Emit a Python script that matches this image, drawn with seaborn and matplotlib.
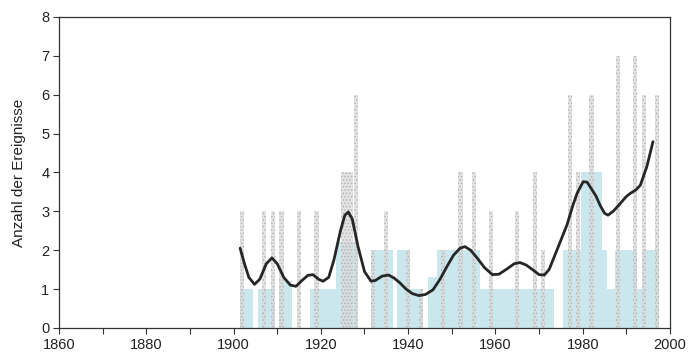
import numpy as np
import pandas as pd
import matplotlib
matplotlib.use("Agg")
import matplotlib.pyplot as plt
import seaborn as sns

# ---- data ----
gray_years = [1902, 1907, 1909, 1911, 1915, 1919, 1925, 1926, 1927, 1928, 1932, 1935,
              1940, 1943, 1948, 1952, 1955, 1959, 1965, 1969, 1971, 1977, 1979, 1982,
              1988, 1992, 1994, 1997]
gray_values = [3, 3, 3, 3, 3, 3, 4, 4, 4, 6, 2, 3,
               2, 1, 2, 4, 4, 3, 3, 4, 2, 6, 4, 6,
               7, 7, 6, 6]

blue_years = [1902, 1903, 1904,
              1906, 1907, 1908, 1909,
              1911, 1912, 1913,
              1918, 1919, 1920, 1921, 1922, 1923,
              1924, 1925, 1926, 1927, 1928,
              1932, 1933, 1934, 1935, 1936,
              1938, 1939, 1940,
              1941, 1942, 1943,
              1945, 1946, 1947, 1948, 1949,
              1950, 1951, 1952, 1953, 1954, 1955, 1956,
              1957, 1958, 1959, 1960, 1961, 1962, 1963, 1964, 1965, 1966, 1967, 1968, 1969,
              1970, 1971, 1972, 1973,
              1976, 1977, 1978, 1979,
              1980, 1981, 1982, 1983, 1984,
              1985, 1986, 1987,
              1988, 1989, 1990, 1991, 1992,
              1993, 1994, 1995, 1996, 1997]
blue_values = [1, 1, 1,
               1, 1, 1, 1,
               1.2, 1.2, 1.2,
               1, 1, 1, 1, 1, 1,
               2.2, 2.2, 2.2, 2.2, 2.2,
               2, 2, 2, 2, 2,
               2, 2, 2,
               1, 1, 1,
               1.3, 1.3, 2, 2, 2,
               2, 2, 2, 2, 2, 2, 2,
               1, 1, 1, 1, 1, 1, 1, 1, 1, 1, 1, 1, 1,
               1, 1, 1, 1,
               2, 2, 2, 2,
               4, 4, 4, 4, 4,
               2, 1, 1,
               2, 2, 2, 2, 2,
               1, 2, 2, 2, 2]

line_years = [1901.5, 1902.5, 1903.5, 1904.8, 1906, 1907.5, 1908.8, 1910, 1911.5, 1913,
              1914.3, 1915.5, 1917, 1918.2, 1919.5, 1920.5, 1921.8, 1923, 1924.5, 1925.5,
              1926.3, 1927.2, 1928.5, 1930, 1931.5, 1932.5, 1934, 1935.5, 1936.8, 1938.1,
              1939.5, 1941, 1942.5, 1944, 1945.7, 1947.3, 1948.9, 1950.4, 1951.9, 1953,
              1954.3, 1955.8, 1957.5, 1959.3, 1960.8, 1962.7, 1964.3, 1965.6, 1967, 1968.5,
              1970, 1971.2, 1972.3, 1973.2, 1974.8, 1976.4, 1977.6, 1978.7, 1980.1, 1981,
              1981.7, 1983, 1984, 1985, 1985.8, 1987, 1988.6, 1990, 1990.9, 1992.2,
              1993.2, 1994.7, 1996.1]
line_values = [2.05, 1.65, 1.3, 1.12, 1.25, 1.65, 1.8, 1.65, 1.3, 1.1,
               1.07, 1.2, 1.35, 1.37, 1.25, 1.2, 1.3, 1.75, 2.5, 2.9,
               2.98, 2.8, 2.1, 1.45, 1.2, 1.22, 1.33, 1.36, 1.28, 1.16,
               1.0, 0.88, 0.83, 0.86, 0.98, 1.25, 1.58, 1.87, 2.05, 2.09,
               2.0, 1.8, 1.55, 1.37, 1.38, 1.52, 1.65, 1.68, 1.62, 1.5,
               1.37, 1.36, 1.5, 1.75, 2.2, 2.65, 3.1, 3.46, 3.76, 3.75,
               3.63, 3.4, 3.15, 2.95, 2.9, 3.0, 3.2, 3.38, 3.46, 3.55,
               3.67, 4.15, 4.79]

y_ticks = [0, 1, 2, 3, 4, 5, 6, 7, 8]
x_major = [1860, 1880, 1900, 1920, 1940, 1960, 1980, 2000]
x_minor = [1870, 1890, 1910, 1930, 1950, 1970, 1990]
y_label = "Anzahl der Ereignisse"

# ---- plotting ----
sns.set_style("ticks")
plt.rcParams["font.family"] = ["Liberation Sans", "DejaVu Sans"]
plt.rcParams["hatch.linewidth"] = 0.8

fig = plt.figure(figsize=(6.9, 3.56), dpi=100)
ax = fig.add_axes([0.0855, 0.079, 0.8855, 0.8735])

blue_df = pd.DataFrame({"year": blue_years, "n": blue_values})
gray_df = pd.DataFrame({"year": gray_years, "n": gray_values})
line_df = pd.DataFrame({"year": line_years, "n": line_values})

sns.barplot(data=blue_df, x="year", y="n", native_scale=True, width=1.0,
            color="#c9e7ed", saturation=1, errorbar=None, linewidth=0,
            ax=ax, zorder=1)
sns.barplot(data=gray_df, x="year", y="n", native_scale=True, width=0.95,
            color="#dcdcdc", saturation=1, errorbar=None, linewidth=0,
            alpha=0.75, hatch=".....", edgecolor="#aaaaaa",
            ax=ax, zorder=2)
sns.lineplot(data=line_df, x="year", y="n", color="#262626", linewidth=2.0,
             ax=ax, zorder=3, sort=True)

ax.set_xlim(1860, 2000)
ax.set_ylim(0, 8)
ax.set_xticks(x_major)
ax.set_xticklabels([str(v) for v in x_major])
ax.set_xticks(x_minor, minor=True)
ax.set_yticks(y_ticks)
ax.set_yticklabels([str(v) for v in y_ticks])
ax.tick_params(axis="both", which="both", direction="out", length=4, width=0.8,
               color="#333333", labelsize=10.5, labelcolor="#222222", pad=3)
ax.set_xlabel("")
ax.set_ylabel(y_label, fontsize=11, color="#222222", labelpad=11)

for side in ["left", "bottom", "top", "right"]:
    ax.spines[side].set_visible(True)
    ax.spines[side].set_color("#333333")
    ax.spines[side].set_linewidth(0.9)

fig.savefig("out.png", dpi=100, facecolor="white")
